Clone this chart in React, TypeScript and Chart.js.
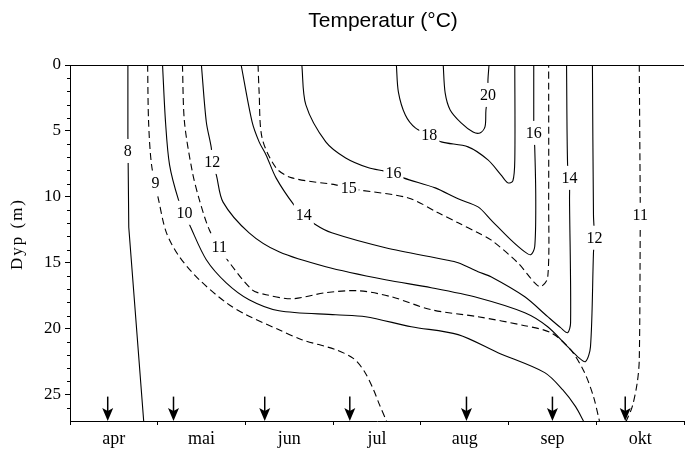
import { useEffect, useRef } from "react";
import { Chart, registerables } from "chart.js";

Chart.register(...registerables);

// x values: months since 1 April (0 = 1 apr, 7 = 1 nov); y values: depth in metres
const months = ["apr", "mai", "jun", "jul", "aug", "sep", "okt"];
const depthTicks = [0, 5, 10, 15, 20, 25];
const arrowMonths = [0.43, 1.18, 2.22, 3.19, 4.52, 5.5, 6.33];

type P = [number, number];

const iso8: P[] = [[0.66, 0], [0.66, 5.3], [0.67, 12.3], [0.84, 27]];
const iso9: P[] = [[0.885, 0], [0.896, 4.32], [0.93, 7.58], [1.01, 10.23], [1.1, 12.73], [1.248, 14.55], [1.475, 16.29], [1.781, 18.03], [2.008, 18.94], [2.383, 20.08], [2.643, 20.83], [3.029, 21.59], [3.234, 22.27], [3.358, 23.26], [3.46, 24.62], [3.528, 25.76], [3.608, 27]];
const iso10: P[] = [[1.055, 0], [1.089, 4.32], [1.135, 7.58], [1.237, 10.23], [1.305, 11.21], [1.373, 12.27], [1.554, 14.77], [1.781, 16.52], [2.042, 17.8], [2.383, 18.64], [3.029, 18.94], [3.37, 19.09], [3.891, 19.85], [4.425, 20.45], [4.879, 21.82], [5.412, 23.33], [5.616, 24.62], [5.764, 25.91], [5.854, 27]];
const iso11: P[] = [[1.282, 0], [1.305, 4.32], [1.395, 8.11], [1.475, 10.23], [1.588, 12.5], [1.702, 13.79], [1.793, 14.77], [2.076, 17.05], [2.235, 17.42], [2.53, 17.73], [2.916, 17.27], [3.29, 17.12], [3.665, 17.58], [4.118, 18.56], [4.652, 19.09], [5.185, 19.77], [5.48, 20.3], [5.707, 21.59], [5.866, 23.33], [5.968, 25.15], [6.036, 27]];
const iso12: P[] = [[1.498, 0], [1.554, 4.32], [1.611, 6.29], [1.622, 7.35], [1.668, 8.33], [1.745, 10.4], [2.042, 12.73], [2.383, 14.17], [2.916, 15.3], [3.597, 16.29], [4.118, 16.89], [4.652, 17.65], [5.185, 18.79], [5.446, 19.85], [5.673, 21.36], [5.786, 22.12], [5.877, 22.5], [5.934, 21.36], [5.968, 14.24], [5.979, 13.1], [5.968, 11.36], [5.956, 0]];
const iso14: P[] = [[1.951, 0], [2.076, 4.32], [2.156, 5.83], [2.235, 6.82], [2.349, 8.56], [2.553, 10.61], [2.666, 11.36], [2.802, 12.12], [2.984, 12.73], [3.597, 13.86], [4.277, 14.77], [4.425, 15.0], [4.652, 15.68], [4.799, 16.06], [5.185, 17.58], [5.446, 19.09], [5.593, 19.92], [5.673, 20.3], [5.707, 19.55], [5.695, 10.23], [5.695, 8.56], [5.673, 7.58], [5.661, 0]];
const iso15: P[] = [[2.144, 0], [2.156, 2.05], [2.19, 5.53], [2.349, 7.8], [2.53, 8.56], [3.029, 9.09], [3.177, 9.32], [3.29, 9.47], [3.857, 10.08], [4.198, 11.21], [4.425, 11.97], [4.652, 12.73], [4.799, 13.26], [5.105, 15.0], [5.298, 16.52], [5.366, 16.82], [5.446, 16.14], [5.457, 10.23], [5.457, 0]];
const iso16: P[] = [[2.643, 0], [2.689, 3.03], [2.916, 5.83], [3.143, 7.05], [3.404, 7.8], [3.574, 8.03], [3.687, 8.18], [3.801, 8.56], [4.164, 9.32], [4.425, 10.15], [4.652, 10.76], [4.799, 11.74], [5.026, 13.26], [5.185, 14.17], [5.253, 14.39], [5.298, 13.79], [5.31, 10.23], [5.298, 6.21], [5.287, 5.15], [5.287, 4.17], [5.287, 0]];
const iso18: P[] = [[3.721, 0], [3.744, 2.05], [3.823, 3.79], [3.937, 4.77], [4.096, 5.3], [4.232, 5.83], [4.538, 6.21], [4.765, 7.2], [4.913, 8.33], [4.992, 8.94], [5.049, 8.79], [5.071, 7.2], [5.071, 0]];
const iso20: P[] = [[4.255, 0], [4.277, 2.12], [4.334, 3.41], [4.459, 4.39], [4.595, 5.08], [4.674, 5.15], [4.731, 4.7], [4.742, 3.41], [4.765, 2.27], [4.765, 1.14], [4.777, 0]];
const iso11b: P[] = [[6.49, 0], [6.501, 10.38], [6.501, 11.36], [6.501, 12.35], [6.49, 22.35], [6.467, 24.09], [6.41, 25.91], [6.342, 27]];

// [text, month, depth]
const contourLabels: [string, number, number][] = [
  ["8", 0.658, 6.52],
  ["9", 0.976, 8.94],
  ["10", 1.305, 11.21],
  ["11", 1.702, 13.79],
  ["12", 1.622, 7.35],
  ["14", 2.666, 11.36],
  ["15", 3.177, 9.32],
  ["16", 3.687, 8.18],
  ["18", 4.096, 5.3],
  ["20", 4.765, 2.27],
  ["16", 5.287, 5.15],
  ["14", 5.695, 8.56],
  ["12", 5.979, 13.1],
  ["11", 6.501, 11.36],
];

const isotherms: { name: string; pts: P[]; dashed: boolean; tension: number }[] = [
  { name: "8", pts: iso8, dashed: false, tension: 0 },
  { name: "9", pts: iso9, dashed: true, tension: 0.3 },
  { name: "10", pts: iso10, dashed: false, tension: 0.3 },
  { name: "11", pts: iso11, dashed: true, tension: 0.3 },
  { name: "12", pts: iso12, dashed: false, tension: 0.3 },
  { name: "14", pts: iso14, dashed: false, tension: 0.3 },
  { name: "15", pts: iso15, dashed: true, tension: 0.3 },
  { name: "16", pts: iso16, dashed: false, tension: 0.3 },
  { name: "18", pts: iso18, dashed: false, tension: 0.3 },
  { name: "20", pts: iso20, dashed: false, tension: 0.3 },
  { name: "11b", pts: iso11b, dashed: true, tension: 0.3 },
];

const SERIF = '"Liberation Serif", "Times New Roman", serif';
const SANS = '"Liberation Sans", Arial, sans-serif';

const decorPlugin = {
  id: "decor",
  afterDatasetsDraw(chart: any) {
    const { ctx, scales } = chart;
    const xs = scales.x;
    const ys = scales.y;
    ctx.save();
    ctx.font = `16px ${SERIF}`;
    ctx.textAlign = "center";
    ctx.textBaseline = "middle";
    for (const [t, m, d] of contourLabels) {
      const x = xs.getPixelForValue(m);
      const y = ys.getPixelForValue(d);
      const w = ctx.measureText(t).width + 4;
      ctx.fillStyle = "#fff";
      ctx.fillRect(x - w / 2, y - 12, w, 24);
      ctx.fillStyle = "#000";
      ctx.fillText(t, x, y + 1);
    }
    ctx.restore();
  },
  afterDraw(chart: any) {
    const { ctx, chartArea, scales } = chart;
    const xs = scales.x;
    const ys = scales.y;
    ctx.save();
    ctx.strokeStyle = "#000";
    ctx.lineWidth = 1;
    // top frame line
    ctx.beginPath();
    ctx.moveTo(chartArea.left, chartArea.top + 0.5);
    ctx.lineTo(chartArea.right, chartArea.top + 0.5);
    ctx.stroke();
    // minor depth ticks
    for (let d = 1; d < 27; d++) {
      if (d % 5 === 0) continue;
      const y = Math.round(ys.getPixelForValue(d)) + 0.5;
      ctx.beginPath();
      ctx.moveTo(chartArea.left - 3, y);
      ctx.lineTo(chartArea.left, y);
      ctx.stroke();
    }
    // sampling arrows
    ctx.fillStyle = "#000";
    ctx.lineWidth = 1.5;
    for (const m of arrowMonths) {
      const x = xs.getPixelForValue(m);
      const yTop = ys.getPixelForValue(25.15);
      const yTip = ys.getPixelForValue(27);
      ctx.beginPath();
      ctx.moveTo(x, yTop);
      ctx.lineTo(x, yTip - 6);
      ctx.stroke();
      ctx.beginPath();
      ctx.moveTo(x, yTip);
      ctx.lineTo(x - 5.5, yTip - 13);
      ctx.lineTo(x, yTip - 10);
      ctx.lineTo(x + 5.5, yTip - 13);
      ctx.closePath();
      ctx.fill();
    }
    // title
    ctx.font = `21px ${SANS}`;
    ctx.textAlign = "center";
    ctx.textBaseline = "alphabetic";
    ctx.fillText("Temperatur (°C)", (chartArea.left + chartArea.right) / 2 + 6, 27);
    // y-axis title
    ctx.translate(18, 235);
    ctx.rotate(-Math.PI / 2);
    ctx.font = `17px ${SERIF}`;
    try {
      (ctx as any).letterSpacing = "2px";
    } catch (e) {}
    ctx.textBaseline = "middle";
    ctx.fillText("Dyp (m)", 1, 0);
    ctx.restore();
  },
};

export default function App() {
  const ref = useRef<HTMLCanvasElement>(null);
  useEffect(() => {
    const canvas = ref.current;
    if (!canvas) return;
    const chart = new Chart(canvas, {
      type: "scatter",
      data: {
        datasets: isotherms.map((iso) => ({
          label: iso.name,
          data: iso.pts.map(([m, d]) => ({ x: m, y: d })),
          showLine: true,
          borderColor: "#000",
          borderWidth: 1.1,
          borderDash: iso.dashed ? [7, 4] : [],
          pointRadius: 0,
          pointHoverRadius: 0,
          tension: iso.tension,
          fill: false,
        })),
      },
      options: {
        animation: false,
        responsive: false,
        devicePixelRatio: 1,
        layout: { padding: { top: 65, left: 0, right: 0, bottom: 0 } },
        plugins: {
          legend: { display: false },
          tooltip: { enabled: false },
          title: { display: false },
        },
        scales: {
          x: {
            type: "linear",
            min: 0,
            max: months.length,
            afterFit: (s: any) => {
              s.height = 32;
            },
            border: { color: "#000", width: 1 },
            grid: {
              drawOnChartArea: false,
              tickLength: 4,
              color: (c: any) =>
                c.tick && Number.isInteger(c.tick.value) ? "#000" : "rgba(0,0,0,0)",
            },
            ticks: {
              stepSize: 0.5,
              autoSkip: false,
              maxRotation: 0,
              padding: 3,
              color: "#000",
              font: { family: SERIF, size: 18 },
              callback: (v: any) => {
                const i = Math.floor(Number(v));
                return Math.abs(Number(v) - i - 0.5) < 1e-6 ? months[i] : "";
              },
            },
          },
          y: {
            type: "linear",
            reverse: true,
            min: 0,
            max: 27,
            afterFit: (s: any) => {
              s.width = 70;
            },
            border: { color: "#000", width: 1 },
            grid: {
              drawOnChartArea: false,
              tickLength: 5,
              color: (c: any) =>
                c.tick && depthTicks.includes(c.tick.value) ? "#000" : "rgba(0,0,0,0)",
            },
            ticks: {
              stepSize: 5,
              includeBounds: false,
              padding: 4,
              color: "#000",
              font: { family: SERIF, size: 17 },
              callback: (v: any) => (depthTicks.includes(Number(v)) ? String(v) : ""),
            },
          },
        },
      },
      plugins: [decorPlugin],
    });
    return () => chart.destroy();
  }, []);

  return (
    <div style={{ position: "fixed", left: 0, top: 0, width: 687, height: 453, background: "#fff" }}>
      <canvas ref={ref} width={687} height={453} style={{ display: "block", width: 687, height: 453 }} />
    </div>
  );
}
